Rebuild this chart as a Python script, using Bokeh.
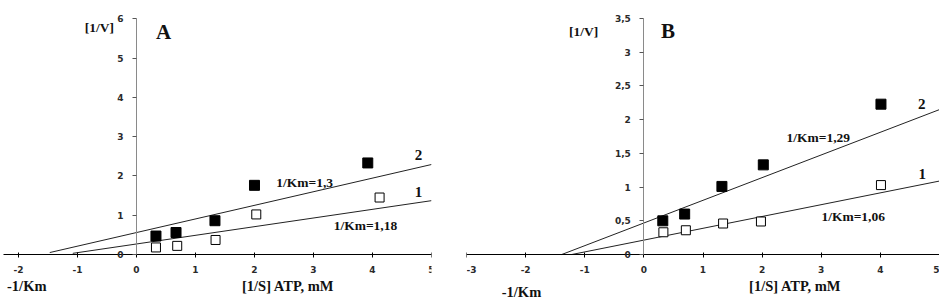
from bokeh.plotting import figure
from bokeh.layouts import row
from bokeh.models import FixedTicker, Range1d
from bokeh.core.properties import value
from bokeh.embed import file_html
from bokeh.resources import INLINE

# ---------------- data: panel A ----------------
a_s2_x = [0.33, 0.67, 1.33, 2.00, 3.92]
a_s2_y = [0.47, 0.56, 0.86, 1.76, 2.33]
a_s1_x = [0.33, 0.69, 1.34, 2.03, 4.12]
a_s1_y = [0.18, 0.22, 0.37, 1.02, 1.45]
a_fit2_x = [-1.47, 5.0]
a_fit2_y = [0.05, 2.29]
a_fit1_x = [-1.08, 5.0]
a_fit1_y = [0.03, 1.37]
a_xticks = [-2, -1, 0, 1, 2, 3, 4, 5]
a_xtick_labels = ["-2", "-1", "0", "1", "2", "3", "4", "5"]
a_yticks = [0, 1, 2, 3, 4, 5, 6]
a_ytick_labels = ["0", "1", "2", "3", "4", "5", "6"]

# ---------------- data: panel B ----------------
b_s2_x = [0.32, 0.69, 1.32, 2.02, 4.01]
b_s2_y = [0.50, 0.60, 1.01, 1.33, 2.23]
b_s1_x = [0.33, 0.71, 1.34, 1.98, 4.01]
b_s1_y = [0.33, 0.36, 0.46, 0.49, 1.03]
b_fit2_x = [-1.39, 5.0]
b_fit2_y = [0.0, 2.15]
b_fit1_x = [-1.22, 5.0]
b_fit1_y = [0.0, 1.09]
b_xticks = [-3, -2, -1, 0, 1, 2, 3, 4, 5]
b_xtick_labels = ["-3", "-2", "-1", "0", "1", "2", "3", "4", "5"]
b_yticks = [0, 0.5, 1, 1.5, 2, 2.5, 3, 3.5]
b_ytick_labels = ["0", "0,5", "1", "1,5", "2", "2,5", "3", "3,5"]

SERIF = value("Liberation Serif")
TXT = "#111111"


def panel(width, height, xr, yr, xbounds, ybounds, xticks, xlabels, yticks, ylabels, border_right):
    p = figure(width=width, height=height, output_backend="svg", toolbar_location=None,
               x_range=Range1d(*xr), y_range=Range1d(*yr),
               min_border_left=0, min_border_right=border_right,
               min_border_top=0, min_border_bottom=0)
    p.outline_line_color = None
    p.grid.visible = False
    p.background_fill_color = "white"
    p.border_fill_color = "white"

    xa = p.xaxis[0]
    xa.fixed_location = 0
    xa.bounds = xbounds
    xa.ticker = FixedTicker(ticks=xticks)
    xa.major_label_overrides = {t: l for t, l in zip(xticks, xlabels)}
    xa.axis_line_color = "black"
    xa.major_tick_line_color = "black"
    xa.major_tick_out = 3
    xa.major_tick_in = 2
    xa.minor_tick_line_color = None
    xa.major_label_standoff = 8
    xa.major_label_text_font = "DejaVu Sans"
    xa.major_label_text_font_style = "bold"
    xa.major_label_text_font_size = "9px"
    xa.major_label_text_color = "#2a2a2a"

    ya = p.yaxis[0]
    ya.fixed_location = 0
    ya.bounds = ybounds
    ya.ticker = FixedTicker(ticks=yticks)
    ya.major_label_overrides = {t: l for t, l in zip(yticks, ylabels)}
    ya.axis_line_color = "#8a8a8a"
    ya.major_tick_line_color = "#555555"
    ya.major_tick_out = 4
    ya.major_tick_in = 0
    ya.minor_tick_line_color = None
    ya.major_label_standoff = 9
    ya.major_label_text_font = "DejaVu Sans"
    ya.major_label_text_font_style = "bold"
    ya.major_label_text_font_size = "9px"
    ya.major_label_text_color = "#2a2a2a"
    return p


# ---------------- panel A ----------------
pa = panel(466, 300, (-2.305, 5.0), (-1.17, 6.463), (-2.25, 5), (0, 6),
           a_xticks, a_xtick_labels, a_yticks, a_ytick_labels, 35)
pa.line(a_fit2_x, a_fit2_y, line_color="#222222", line_width=1)
pa.line(a_fit1_x, a_fit1_y, line_color="#222222", line_width=1)
pa.scatter(a_s2_x, a_s2_y, marker="square", size=10, fill_color="black", line_color="black")
pa.scatter(a_s1_x, a_s1_y, marker="square", size=9, fill_color="white", line_color="black", line_width=1)
pa.text(x=[4.78, 4.78], y=[2.52, 1.60], text=["2", "1"], text_font=SERIF, text_font_style="bold",
        text_font_size="15px", text_align="center", text_baseline="middle", text_color=TXT)
pa.text(x=[2.85, 3.88], y=[1.84, 0.74], text=["1/Km=1,3", "1/Km=1,18"], text_font=SERIF,
        text_font_style="bold", text_font_size="13.5px", text_align="center", text_baseline="middle",
        text_color=TXT)
pa.text(x=[-0.63], y=[5.78], text=["[1/V]"], text_font=SERIF, text_font_style="bold",
        text_font_size="13.5px", text_align="center", text_baseline="middle", text_color=TXT)
pa.text(x=[0.46], y=[5.67], text=["A"], text_font=SERIF, text_font_style="bold",
        text_font_size="21px", text_align="center", text_baseline="middle", text_color=TXT)
pa.text(x=[2.57, -1.86], y=[-0.81, -0.81], text=["[1/S] ATP, mM", "-1/Km"], text_font=SERIF,
        text_font_style="bold", text_font_size="14.5px", text_align="center", text_baseline="middle",
        text_color=TXT)

# ---------------- panel B ----------------
pb = panel(473, 300, (-3.0, 5.0), (-0.682, 3.768), (-3, 5), (0, 3.5),
           b_xticks, b_xtick_labels, b_yticks, b_ytick_labels, 0)
pb.line(b_fit2_x, b_fit2_y, line_color="#222222", line_width=1)
pb.line(b_fit1_x, b_fit1_y, line_color="#222222", line_width=1)
pb.scatter(b_s2_x, b_s2_y, marker="square", size=10, fill_color="black", line_color="black")
pb.scatter(b_s1_x, b_s1_y, marker="square", size=9, fill_color="white", line_color="black", line_width=1)
pb.text(x=[4.70, 4.71], y=[2.24, 1.19], text=["2", "1"], text_font=SERIF, text_font_style="bold",
        text_font_size="15px", text_align="center", text_baseline="middle", text_color=TXT)
pb.text(x=[2.95, 3.54], y=[1.74, 0.57], text=["1/Km=1,29", "1/Km=1,06"], text_font=SERIF,
        text_font_style="bold", text_font_size="13.5px", text_align="center", text_baseline="middle",
        text_color=TXT)
pb.text(x=[-1.02], y=[3.31], text=["[1/V]"], text_font=SERIF, text_font_style="bold",
        text_font_size="13.5px", text_align="center", text_baseline="middle", text_color=TXT)
pb.text(x=[0.41], y=[3.31], text=["B"], text_font=SERIF, text_font_style="bold",
        text_font_size="21px", text_align="center", text_baseline="middle", text_color=TXT)
pb.text(x=[2.56, -2.07], y=[-0.47, -0.55], text=["[1/S] ATP, mM", "-1/Km"], text_font=SERIF,
        text_font_style="bold", text_font_size="14.5px", text_align="center", text_baseline="middle",
        text_color=TXT)

layout = row(pa, pb)
open("out.html", "w").write(file_html(layout, INLINE))
